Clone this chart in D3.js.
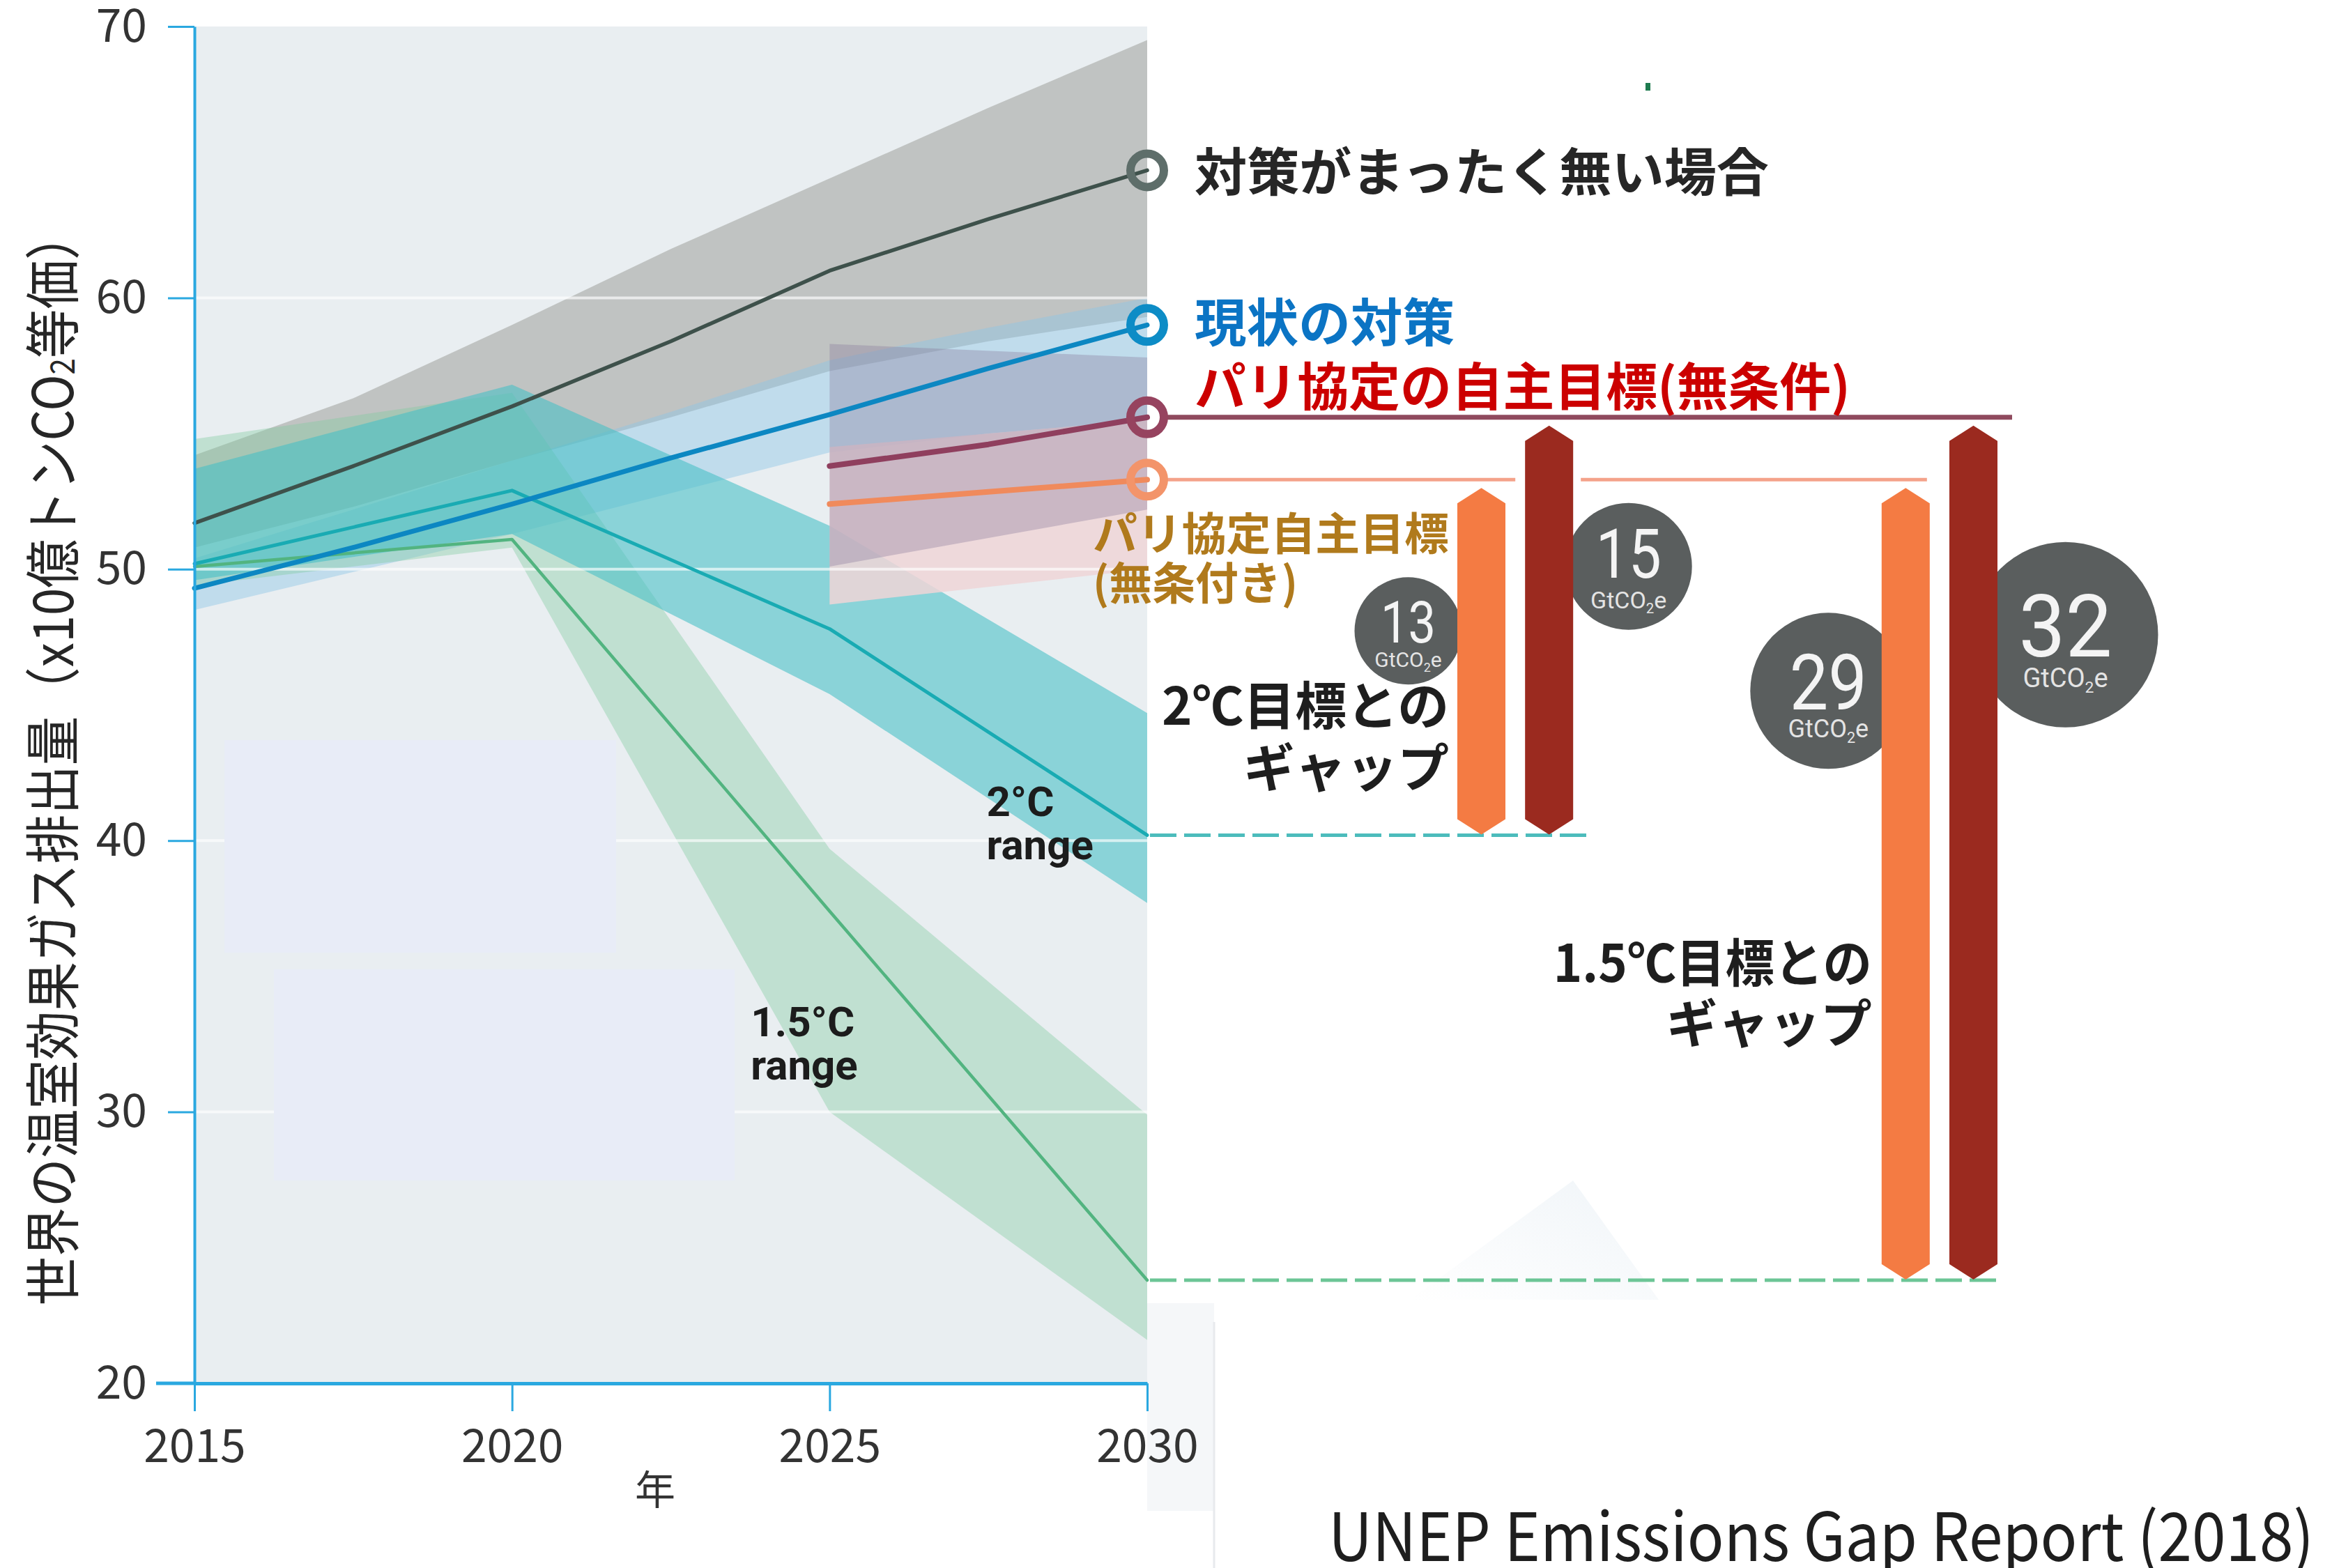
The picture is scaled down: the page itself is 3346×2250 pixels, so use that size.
<!DOCTYPE html>
<html>
<head>
<meta charset="utf-8">
<script src="https://cdn.jsdelivr.net/npm/d3@7"></script>
<style>
  body { margin: 0; background: #fff; }
  svg { display: block; }
</style>
</head>
<body>
<svg id="chart" width="3346" height="2250"></svg>
<script>
// 排出量データ (10億トンCO2等価)
// 対策なし
var noPolicyYears = [2015, 2017.5, 2020, 2022.5, 2025, 2027.5, 2030];
var noPolicyMid  = [51.7, 53.8, 56.0, 58.4, 61.0, 62.9, 64.7];
var noPolicyHigh = [54.2, 56.3, 59.0, 61.8, 64.4, 67.0, 69.5];
var noPolicyLow  = [50.8, 52.3, 54.0, 55.6, 57.3, 58.4, 59.3];

// 現状の対策
var currentYears = [2015, 2017.5, 2020, 2022.5, 2025, 2027.5, 2030];
var currentMid  = [49.3, 50.8, 52.4, 54.1, 55.7, 57.4, 59.0];
var currentHigh = [50.4, 52.2, 54.0, 55.8, 57.7, 58.9, 60.0];
var currentLow  = [48.5, 49.9, 51.3, 52.8, 54.3, 55.0, 55.5];

// 2℃ range
var twoDegYears = [2015, 2020, 2025, 2030];
var twoDegMid  = [50.2, 52.9, 47.8, 40.2];
var twoDegHigh = [53.7, 56.8, 51.6, 44.7];
var twoDegLow  = [49.6, 51.3, 45.4, 37.7];

// 1.5℃ range
var oneFiveYears = [2015, 2020, 2025, 2030];
var oneFiveMid  = [50.1, 51.1, 37.4, 23.8];
var oneFiveHigh = [54.8, 56.5, 39.7, 29.9];
var oneFiveLow  = [49.4, 50.8, 30.0, 21.6];

// パリ協定の自主目標 (無条件 / 条件付き)
var ndcYears = [2025, 2027.5, 2030];
var ndcUncondMid = [53.8, 54.6, 55.6];
var ndcCondMid   = [52.4, 52.85, 53.3];
var ndcBandYears = [2025, 2030];
var ndcUncondHigh = [58.3, 57.8];
var ndcUncondLow  = [50.1, 52.2];
var ndcCondHigh   = [54.5, 55.5];
var ndcCondLow    = [48.7, 50.0];

// ギャップ
var gapGroups = ['2℃', '1.5℃'];
var gapKinds = ['cond', 'uncond'];
var gapLabels = [13, 15, 29, 32];

var yTicks = [20, 30, 40, 50, 60, 70];
var xTicks = [2015, 2020, 2025, 2030];
var gridValues = [30, 40, 50, 60];

var jpFont = '"Noto Sans CJK JP", sans-serif';

var svg = d3.select('#chart');

var x = d3.scaleLinear().domain([2015, 2030]).range([279, 1646]);
var y = d3.scaleLinear().domain([20, 70]).range([1985, 38]);

function zip(years, mid, high, low) {
    return years.map(function(yr, i) {
        return { year: yr, mid: mid ? mid[i] : null, high: high ? high[i] : null, low: low ? low[i] : null };
    });
}

var area = d3.area()
    .x(function(d) { return x(d.year); })
    .y0(function(d) { return y(d.low); })
    .y1(function(d) { return y(d.high); });

var line = d3.line()
    .x(function(d) { return x(d.year); })
    .y(function(d) { return y(d.mid); });

// 背景
svg.append('rect')
    .attr('x', x(2015)).attr('y', y(70))
    .attr('width', x(2030) - x(2015)).attr('height', y(20) - y(70))
    .attr('fill', '#e9eef1');

// 右下の薄い背景
var defs = svg.append('defs');
var grad = defs.append('linearGradient').attr('id', 'fade')
    .attr('x1', '1').attr('y1', '0').attr('x2', '0').attr('y2', '1');
grad.append('stop').attr('offset', '0%').attr('stop-color', '#e6eef4');
grad.append('stop').attr('offset', '100%').attr('stop-color', '#ffffff');
svg.append('rect')
    .attr('x', x(2030)).attr('y', 1870)
    .attr('width', 96).attr('height', 298)
    .attr('fill', '#f5f7f9');
svg.append('polygon')
    .attr('points', '2023,1865 2257,1694 2380,1865')
    .attr('fill', 'url(#fade)').attr('fill-opacity', 0.6);
svg.append('line')
    .attr('x1', 1742).attr('x2', 1742).attr('y1', 1897).attr('y2', 2250)
    .attr('stroke', '#e8eaed').attr('stroke-width', 3);
svg.append('rect')
    .attr('x', 2361).attr('y', 119).attr('width', 7).attr('height', 11)
    .attr('fill', '#1e7b4f');

// 帯
var bands = [
    { data: zip(noPolicyYears, null, noPolicyHigh, noPolicyLow), fill: '#9ea19b', op: 0.55 },
    { data: zip(currentYears, null, currentHigh, currentLow), fill: '#8fc6e6', op: 0.45 },
    { data: zip(oneFiveYears, null, oneFiveHigh, oneFiveLow), fill: '#7dcb9f', op: 0.38 },
    { data: zip(twoDegYears, null, twoDegHigh, twoDegLow), fill: '#45c0c6', op: 0.58 },
    { data: zip(ndcBandYears, null, ndcCondHigh, ndcCondLow), fill: '#efd5d7', op: 0.85 },
    { data: zip(ndcBandYears, null, ndcUncondHigh, ndcUncondLow), fill: '#86779a', op: 0.35 }
];
svg.append('g').selectAll('path')
    .data(bands).enter().append('path')
    .attr('d', function(d) { return area(d.data); })
    .attr('fill', function(d) { return d.fill; })
    .attr('fill-opacity', function(d) { return d.op; });

// グリッド
svg.append('g').selectAll('line')
    .data(gridValues).enter().append('line')
    .attr('x1', x(2015)).attr('x2', x(2030))
    .attr('y1', function(d) { return y(d); }).attr('y2', function(d) { return y(d); })
    .attr('stroke', '#fff').attr('stroke-opacity', 0.65).attr('stroke-width', 4);

// 消されたラベル跡
svg.append('rect').attr('x', 322).attr('y', 1062).attr('width', 562).attr('height', 305).attr('fill', '#e8ecf7');
svg.append('rect').attr('x', 393).attr('y', 1391).attr('width', 661).attr('height', 303).attr('fill', '#e8ecf7');

// 線
var lines = [
    { data: zip(oneFiveYears, oneFiveMid), color: '#52b480', w: 4.5 },
    { data: zip(twoDegYears, twoDegMid), color: '#19abb3', w: 5 },
    { data: zip(noPolicyYears, noPolicyMid), color: '#3e514b', w: 5.5 },
    { data: zip(currentYears, currentMid), color: '#0c87c2', w: 7 },
    { data: zip(ndcYears, ndcCondMid), color: '#f08a5c', w: 8 },
    { data: zip(ndcYears, ndcUncondMid), color: '#8f3f5e', w: 8 }
];
svg.append('g').selectAll('path')
    .data(lines).enter().append('path')
    .attr('d', function(d) { return line(d.data); })
    .attr('fill', 'none')
    .attr('stroke', function(d) { return d.color; })
    .attr('stroke-width', function(d) { return d.w; })
    .attr('stroke-linejoin', 'round')
    .attr('stroke-linecap', 'round');

// 軸
var axisColor = '#2aa8e0';
var yAxisG = svg.append('g')
    .attr('transform', 'translate(' + x(2015) + ',0)')
    .call(d3.axisLeft(y).tickValues(yTicks).tickSize(38).tickPadding(30).tickSizeOuter(0));
var xAxisG = svg.append('g')
    .attr('transform', 'translate(0,' + y(20) + ')')
    .call(d3.axisBottom(x).tickValues(xTicks).tickFormat(d3.format('d')).tickSize(40).tickPadding(26).tickSizeOuter(0));
svg.append('line')
    .attr('x1', 224).attr('x2', x(2015)).attr('y1', y(20)).attr('y2', y(20))
    .attr('stroke', axisColor).attr('stroke-width', 5);

[yAxisG, xAxisG].forEach(function(g) {
    g.select('.domain').attr('stroke', axisColor).attr('stroke-width', 4);
    g.selectAll('.tick line').attr('stroke', axisColor).attr('stroke-width', 3);
    g.selectAll('.tick text')
        .attr('fill', '#333')
        .style('font-family', jpFont)
        .style('font-size', '66px');
});
xAxisG.select('.domain').attr('stroke-width', 5);

svg.append('text')
    .attr('x', 940).attr('y', 2159)
    .attr('text-anchor', 'middle')
    .style('font-family', jpFont).style('font-size', '58px')
    .attr('fill', '#333')
    .text('年');

var yTitle = svg.append('text')
    .attr('transform', 'translate(70,1088) rotate(-90)')
    .attr('text-anchor', 'middle')
    .attr('dominant-baseline', 'central')
    .attr('textLength', 1571)
    .attr('lengthAdjust', 'spacingAndGlyphs')
    .style('font-family', jpFont).style('font-size', '80px')
    .attr('fill', '#262626');
yTitle.append('tspan').text('世界の温室効果ガス排出量（x10億トンCO');
yTitle.append('tspan').attr('dy', 16).style('font-size', '48px').text('2');
yTitle.append('tspan').attr('dy', -16).text('等価）');

// range ラベル
function rangeLabel(year, value, l1) {
    var t = svg.append('g')
        .style('font-family', 'Roboto, sans-serif')
        .style('font-weight', 700)
        .style('font-size', '60px')
        .attr('fill', '#1c1c1c');
    t.append('text').attr('x', x(year)).attr('y', y(value)).text(l1);
    t.append('text').attr('x', x(year)).attr('y', y(value) + 62).text('range');
}
rangeLabel(2027.47, 40.9, '2°C');
rangeLabel(2023.76, 32.8, '1.5°C');

// 右側: ギャップ
var last = function(a) { return a[a.length - 1]; };
var uncondY = y(last(ndcUncondMid));
var condY = y(last(ndcCondMid));
var twoY = y(last(twoDegMid));
var oneFiveY = y(last(oneFiveMid));
var x2030 = x(2030);

var groupX = d3.scaleBand().domain(gapGroups).range([2091, 2866]).paddingInner(0.727).paddingOuter(0);
var kindX = d3.scaleBand().domain(gapKinds).range([0, groupX.bandwidth()]).paddingInner(0.29);

var gapBars = [];
gapGroups.forEach(function(g, gi) {
    gapKinds.forEach(function(k, ki) {
        gapBars.push({
            group: g, kind: k,
            x0: groupX(g) + kindX(k),
            top: k === 'cond' ? last(ndcCondMid) : last(ndcUncondMid),
            bottom: g === '2℃' ? last(twoDegMid) : last(oneFiveMid),
            label: gapLabels[gi * 2 + ki]
        });
    });
});
var bw = kindX.bandwidth();
var barCond2 = gapBars[0], barUncond2 = gapBars[1], barCond15 = gapBars[2], barUncond15 = gapBars[3];

// 水平線
svg.append('line')
    .attr('x1', x2030 + 25).attr('x2', barUncond15.x0 + bw + 21)
    .attr('y1', uncondY).attr('y2', uncondY)
    .attr('stroke', '#8f4a5e').attr('stroke-width', 7);
svg.append('line')
    .attr('x1', x2030 + 25).attr('x2', barUncond2.x0 - 14)
    .attr('y1', condY).attr('y2', condY)
    .attr('stroke', '#f4a28a').attr('stroke-width', 5);
svg.append('line')
    .attr('x1', barUncond2.x0 + bw + 11).attr('x2', barCond15.x0 + bw - 4)
    .attr('y1', condY).attr('y2', condY)
    .attr('stroke', '#f4a28a').attr('stroke-width', 5);
svg.append('line')
    .attr('x1', x2030 + 4).attr('x2', barUncond2.x0 + bw + 24)
    .attr('y1', twoY).attr('y2', twoY)
    .attr('stroke', '#4cbcbc').attr('stroke-width', 5).attr('stroke-dasharray', '38,11');
svg.append('line')
    .attr('x1', x2030 + 4).attr('x2', barUncond15.x0 + bw)
    .attr('y1', oneFiveY).attr('y2', oneFiveY)
    .attr('stroke', '#6cc596').attr('stroke-width', 5).attr('stroke-dasharray', '38,11');

// 数値バッジ (位置はバーからの相対)
var badgeLayout = [
    { dx: -105, dy: 205, r: 77, fs: 84, tl: 79, nb: 17, ufs: 30, ub: 52 },
    { dx: 114, dy: 202, r: 91, fs: 98, tl: 94, nb: 16, ufs: 34, ub: 60 },
    { dx: -111, dy: 291, r: 112, fs: 111, tl: 111, nb: 27, ufs: 36, ub: 67 },
    { dx: 132, dy: 300, r: 133, fs: 125, tl: 134, nb: 31, ufs: 38, ub: 75 }
];
var apex = 22;
gapBars.forEach(function(b, i) {
    var L = badgeLayout[i];
    var cx = b.x0 + bw / 2 + L.dx;
    var cy = y(b.top) + 12 + L.dy;
    var g = svg.append('g');
    g.append('circle').attr('cx', cx).attr('cy', cy).attr('r', L.r).attr('fill', '#5a5e5e');
    g.append('text')
        .attr('x', cx).attr('y', cy + L.nb)
        .attr('text-anchor', 'middle')
        .attr('textLength', L.tl).attr('lengthAdjust', 'spacingAndGlyphs')
        .style('font-family', 'Roboto, sans-serif').style('font-size', L.fs + 'px')
        .attr('fill', '#f4f4f4')
        .text(b.label);
    var u = g.append('text')
        .attr('x', cx).attr('y', cy + L.ub)
        .attr('text-anchor', 'middle')
        .style('font-family', 'Roboto, sans-serif').style('font-size', L.ufs + 'px')
        .attr('fill', '#e4e4e4');
    var sub = Math.round(L.ufs * 0.22);
    u.append('tspan').text('GtCO');
    u.append('tspan').attr('dy', sub).style('font-size', (L.ufs * 0.6) + 'px').text('2');
    u.append('tspan').attr('dy', -sub).text('e');
});

// ギャップの矢印バー
svg.append('g').selectAll('polygon')
    .data(gapBars).enter().append('polygon')
    .attr('points', function(b) {
        var x0 = b.x0, x1 = b.x0 + bw, xc = (x0 + x1) / 2;
        var t = y(b.top) + 12, bt = y(b.bottom) - 1;
        return [[x0, t + apex], [xc, t], [x1, t + apex], [x1, bt - apex], [xc, bt], [x0, bt - apex]].join(' ');
    })
    .attr('fill', function(b) { return b.kind === 'cond' ? '#f47b43' : '#9b2a1f'; });

// 2030年のリング
var rings = [
    { v: last(noPolicyMid), color: '#5e6e6a' },
    { v: last(currentMid), color: '#0d8cc6' },
    { v: last(ndcUncondMid), color: '#96435f' },
    { v: last(ndcCondMid), color: '#f3946a' }
];
svg.append('g').selectAll('circle')
    .data(rings).enter().append('circle')
    .attr('cx', x2030).attr('cy', function(d) { return y(d.v); })
    .attr('r', 24).attr('fill', 'none')
    .attr('stroke', function(d) { return d.color; }).attr('stroke-width', 12);

// シナリオのラベル
function jpLabel(tx, ty, str, color, size, len, anchor) {
    return svg.append('text')
        .attr('x', tx).attr('y', ty)
        .attr('text-anchor', anchor || 'start')
        .attr('textLength', len).attr('lengthAdjust', 'spacingAndGlyphs')
        .style('font-family', jpFont).style('font-weight', 700).style('font-size', size + 'px')
        .attr('fill', color)
        .text(str);
}
var labelX = x2030 + 68;
jpLabel(labelX, y(last(noPolicyMid)) + 30, '対策がまったく無い場合', '#262626', 74, 824);
jpLabel(labelX, y(last(currentMid)) + 24, '現状の対策', '#0b74c4', 74, 373);
jpLabel(labelX, uncondY - 17, 'パリ協定の自主目標(無条件)', '#cc0000', 74, 941);
jpLabel(1568, condY + 101, 'パリ協定自主目標', '#b07a1c', 64, 511);
jpLabel(1568, condY + 172, '(無条付き)', '#b07a1c', 64, 294);

jpLabel(barCond2.x0 - 12, 1040, '2℃目標との', '#1e1e1e', 74, 412, 'end');
jpLabel(barCond2.x0 - 12, 1129, 'ギャップ', '#1e1e1e', 74, 295, 'end');
jpLabel(barCond15.x0 - 14, 1409, '1.5℃目標との', '#1e1e1e', 74, 457, 'end');
jpLabel(barCond15.x0 - 14, 1496, 'ギャップ', '#1e1e1e', 74, 295, 'end');

// 出典
svg.append('text')
    .attr('x', 1906).attr('y', 2240)
    .attr('textLength', 1414).attr('lengthAdjust', 'spacingAndGlyphs')
    .style('font-family', jpFont).style('font-size', '96px')
    .attr('fill', '#1e1e1e')
    .text('UNEP Emissions Gap Report (2018)');
</script>
</body>
</html>
